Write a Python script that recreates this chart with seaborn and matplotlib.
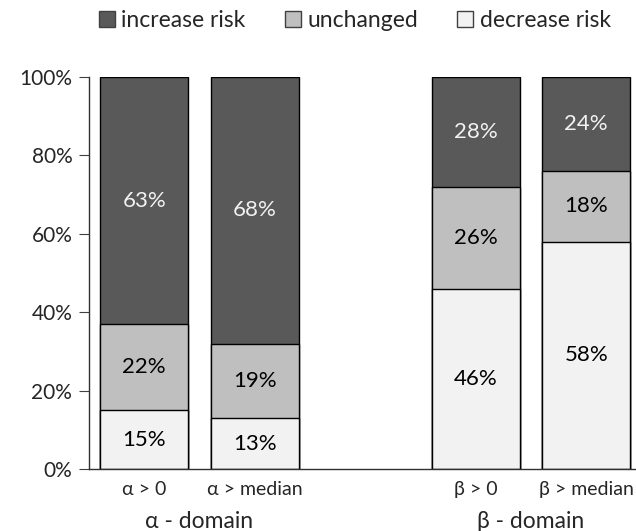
import pandas as pd
import seaborn as sns
import matplotlib.pyplot as plt
from matplotlib.patches import Patch

conditions = ["α > 0", "α > median", "β > 0", "β > median"]
positions = [0, 1, 3, 4]
decrease = [15, 13, 46, 58]
unchanged = [22, 19, 26, 18]
increase = [63, 68, 28, 24]
domains = ["α - domain", "β - domain"]

colors = {"increase risk": "#595959", "unchanged": "#BFBFBF", "decrease risk": "#F2F2F2"}

df = pd.DataFrame({"pos": positions, "cond": conditions,
                   "decrease": decrease, "unchanged": unchanged, "increase": increase})
df["lvl1"] = df["decrease"]
df["lvl2"] = df["decrease"] + df["unchanged"]
df["lvl3"] = df["lvl2"] + df["increase"]

sns.set_style("white")
plt.rcParams["font.family"] = ["Lato", "DejaVu Sans"]

fig = plt.figure(figsize=(6.36, 5.31), dpi=100)
ax = fig.add_axes([0.14, 0.1168, 0.86, 0.738])

# draw cumulative layers from the top down so they stack
for col, name in [("lvl3", "increase risk"), ("lvl2", "unchanged"), ("lvl1", "decrease risk")]:
    sns.barplot(data=df, x="pos", y=col, native_scale=True, width=0.8,
                color=colors[name], saturation=1, edgecolor="black", linewidth=1, ax=ax)

fs = 16
for _, r in df.iterrows():
    ax.text(r["pos"], r["decrease"] / 2, f"{r['decrease']}%", ha="center", va="center",
            fontsize=fs, color="black")
    ax.text(r["pos"], r["lvl1"] + r["unchanged"] / 2, f"{r['unchanged']}%", ha="center",
            va="center", fontsize=fs, color="black")
    ax.text(r["pos"], r["lvl2"] + r["increase"] / 2, f"{r['increase']}%", ha="center",
            va="center", fontsize=fs, color="#F2F2F2")

ax.set_xlim(-0.5, 4.45)
ax.set_ylim(0, 100)
ax.set_yticks(range(0, 101, 20))
ax.set_yticklabels([f"{v}%" for v in range(0, 101, 20)], fontsize=15)
ax.set_xticks(positions)
ax.set_xticklabels(conditions, fontsize=14)
ax.tick_params(axis="y", left=True, length=7, color="#404040", pad=5)
ax.tick_params(axis="x", bottom=False, pad=5)
ax.set_xlabel("")
ax.set_ylabel("")
for s in ["top", "right"]:
    ax.spines[s].set_visible(False)
for s in ["left", "bottom"]:
    ax.spines[s].set_color("#303030")
    ax.spines[s].set_linewidth(1)

ax.text(0.5, -0.135, domains[0], transform=ax.get_xaxis_transform(), ha="center",
        va="center", fontsize=16.5)
ax.text(3.5, -0.135, domains[1], transform=ax.get_xaxis_transform(), ha="center",
        va="center", fontsize=16.5)

handles = [Patch(facecolor=colors[n], edgecolor="#404040", label=n)
           for n in ["increase risk", "unchanged", "decrease risk"]]
fig.legend(handles=handles, loc="center", bbox_to_anchor=(0.558, 0.962), ncol=3,
           frameon=False, fontsize=16.5, handlelength=0.7, handleheight=0.7,
           handletextpad=0.3, columnspacing=1.7)

fig.savefig("out.png", dpi=100)
